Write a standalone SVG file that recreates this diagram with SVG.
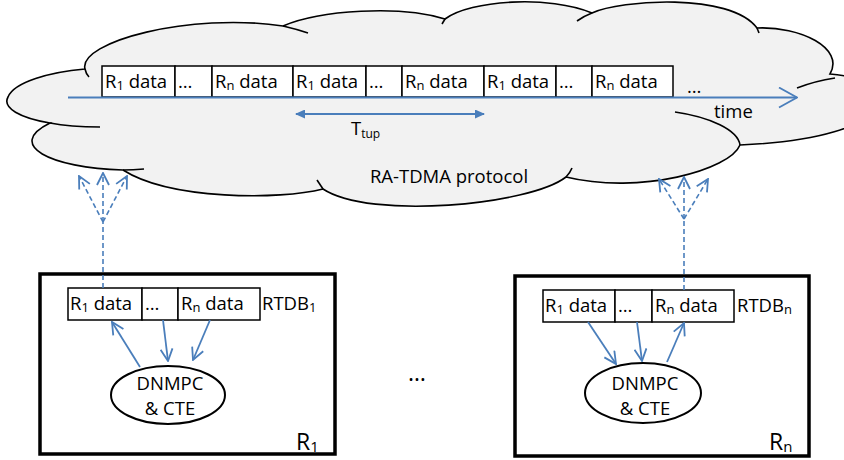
<svg xmlns="http://www.w3.org/2000/svg" width="844" height="460" viewBox="0 0 844 460">
<style>
  .t{font-family:"Open Sans","Liberation Sans",sans-serif;font-size:18.5px;fill:#000}
  .big{font-size:23px}
  .slot{fill:#fff;stroke:#000;stroke-width:1.5}
  .frame{fill:#fff;stroke:#000;stroke-width:3.5}
  .ell{fill:#fff;stroke:#000;stroke-width:2}
  .cl{fill:none;stroke:#000;stroke-width:1.6}
  .bl{fill:none;stroke:#4a7ebb;stroke-width:1.8}
  .dash{fill:none;stroke:#4a7ebb;stroke-width:1.6;stroke-dasharray:5,3}
</style>
<defs>
  <marker id="vopen" viewBox="0 0 14 14" refX="13" refY="7" markerWidth="14" markerHeight="14" markerUnits="userSpaceOnUse" orient="auto">
    <path d="M1,1 L13,7 L1,13" fill="none" stroke="#4a7ebb" stroke-width="1.8"/>
  </marker>
  <marker id="vbig" viewBox="0 0 20 22" refX="19" refY="11" markerWidth="20" markerHeight="22" markerUnits="userSpaceOnUse" orient="auto">
    <path d="M1,1 L19,11 L1,21" fill="none" stroke="#4a7ebb" stroke-width="1.8"/>
  </marker>
  <marker id="tri" viewBox="0 0 10 9" refX="9" refY="4.5" markerWidth="10" markerHeight="9" markerUnits="userSpaceOnUse" orient="auto-start-reverse">
    <path d="M0,0 L10,4.5 L0,9 Z" fill="#4a7ebb"/>
  </marker>
</defs>

<g id="cloud">
  <path d="M50,123 C20,118 2,108 8,97 C14,82 50,72 85,69 C78,42 190,12 283,26 C320,10 400,5 445,19 C470,0 550,-5 592,13 C620,0 730,-8 757,28 C800,26 845,48 830,74 C905,80 905,138 740,145 C730,170 640,195 566,177 C530,205 370,220 323,189 C280,200 170,200 123,170 C50,168 5,145 50,123 Z" fill="#f2f2f2" stroke="#000" stroke-width="1.6"/>
  <path class="cl" d="M50,123 Q70,127 100,127"/>
  <path class="cl" d="M85,69 Q86,74 89,77"/>
  <path class="cl" d="M283,26 Q296,29 308,33"/>
  <path class="cl" d="M445,19 L442,24"/>
  <path class="cl" d="M577,21 Q584,16 592,13"/>
  <path class="cl" d="M757,28 L759,33"/>
  <path class="cl" d="M797,88 Q815,81 835,78"/>
  <path class="cl" d="M740,145 C738,130 710,117 675,112"/>
  <path class="cl" d="M566,177 Q570,173 572,168"/>
  <path class="cl" d="M317,180 L323,189"/>
  <path class="cl" d="M123,170 Q133,170 144,169"/>
  <text class="t" x="449" y="183" text-anchor="middle">RA-TDMA protocol</text>
</g>

<g id="timeline">
  <rect class="slot" x="102" y="66" width="73" height="31"/>
  <rect class="slot" x="175" y="66" width="37" height="31"/>
  <rect class="slot" x="212" y="66" width="81" height="31"/>
  <rect class="slot" x="293" y="66" width="73" height="31"/>
  <rect class="slot" x="366" y="66" width="36" height="31"/>
  <rect class="slot" x="402" y="66" width="82" height="31"/>
  <rect class="slot" x="484" y="66" width="72" height="31"/>
  <rect class="slot" x="556" y="66" width="36" height="31"/>
  <rect class="slot" x="592" y="66" width="81" height="31"/>
  <text class="t" x="105" y="88">R<tspan font-size="13" dy="2">1</tspan><tspan dy="-2"> data</tspan></text>
  <text class="t" x="178" y="88">…</text>
  <text class="t" x="215" y="88">R<tspan font-size="13" dy="2">n</tspan><tspan dy="-2"> data</tspan></text>
  <text class="t" x="296" y="88">R<tspan font-size="13" dy="2">1</tspan><tspan dy="-2"> data</tspan></text>
  <text class="t" x="369" y="88">…</text>
  <text class="t" x="405" y="88">R<tspan font-size="13" dy="2">n</tspan><tspan dy="-2"> data</tspan></text>
  <text class="t" x="487" y="88">R<tspan font-size="13" dy="2">1</tspan><tspan dy="-2"> data</tspan></text>
  <text class="t" x="559" y="88">…</text>
  <text class="t" x="595" y="88">R<tspan font-size="13" dy="2">n</tspan><tspan dy="-2"> data</tspan></text>
  <text class="t" x="687" y="93">…</text>
  <text class="t" x="714" y="118">time</text>
  <text class="t" x="351" y="135">T<tspan font-size="12" dy="3">tup</tspan></text>
</g>

<g id="robot1">
  <rect class="frame" x="40" y="274" width="295" height="180"/>
  <rect class="slot" x="68" y="288" width="74" height="32"/>
  <rect class="slot" x="142" y="288" width="36" height="32"/>
  <rect class="slot" x="178" y="288" width="82" height="32"/>
  <text class="t" x="70" y="310">R<tspan font-size="13" dy="2">1</tspan><tspan dy="-2"> data</tspan></text>
  <text class="t" x="145" y="310">…</text>
  <text class="t" x="181" y="310">R<tspan font-size="13" dy="2">n</tspan><tspan dy="-2"> data</tspan></text>
  <text class="t" x="262" y="310">RTDB<tspan font-size="13" dy="2">1</tspan></text>
  <ellipse class="ell" cx="168" cy="395" rx="57" ry="29"/>
  <text class="t" x="170" y="390" text-anchor="middle">DNMPC</text>
  <text class="t" x="170" y="415" text-anchor="middle">&amp; CTE</text>
  <text class="t big" x="296" y="450">R<tspan font-size="15" dy="2">1</tspan></text>
</g>

<g id="robotn">
  <rect class="frame" x="515" y="276" width="294" height="180"/>
  <rect class="slot" x="543" y="290" width="72" height="32"/>
  <rect class="slot" x="615" y="290" width="37" height="32"/>
  <rect class="slot" x="652" y="290" width="82" height="32"/>
  <text class="t" x="545" y="312">R<tspan font-size="13" dy="2">1</tspan><tspan dy="-2"> data</tspan></text>
  <text class="t" x="618" y="312">…</text>
  <text class="t" x="655" y="312">R<tspan font-size="13" dy="2">n</tspan><tspan dy="-2"> data</tspan></text>
  <text class="t" x="737" y="312">RTDB<tspan font-size="13" dy="2">n</tspan></text>
  <ellipse class="ell" cx="643" cy="393" rx="58" ry="30"/>
  <text class="t" x="645" y="390" text-anchor="middle">DNMPC</text>
  <text class="t" x="645" y="415" text-anchor="middle">&amp; CTE</text>
  <text class="t big" x="769" y="450">R<tspan font-size="15" dy="2">n</tspan></text>
</g>

<g id="ellipsis">
  <text class="t big" x="408" y="381">…</text>
</g>

<g id="connectors">
  <line class="bl" x1="68" y1="97.5" x2="797" y2="97.5" marker-end="url(#vbig)"/>
  <line class="bl" x1="296" y1="114" x2="484" y2="114" marker-start="url(#tri)" marker-end="url(#tri)"/>
  <line class="bl" x1="140" y1="367" x2="112" y2="322" marker-end="url(#vopen)"/>
  <line class="bl" x1="163" y1="320" x2="168" y2="361" marker-end="url(#vopen)"/>
  <line class="bl" x1="210" y1="320" x2="193" y2="360" marker-end="url(#vopen)"/>
  <line class="bl" x1="588" y1="322" x2="616" y2="364" marker-end="url(#vopen)"/>
  <line class="bl" x1="637" y1="322" x2="642" y2="361" marker-end="url(#vopen)"/>
  <line class="bl" x1="667" y1="362" x2="684" y2="323" marker-end="url(#vopen)"/>
  <line class="dash" x1="103" y1="288" x2="103" y2="222"/>
  <line class="dash" x1="103" y1="222" x2="79" y2="176" marker-end="url(#vopen)"/>
  <line class="dash" x1="103" y1="222" x2="103" y2="173" marker-end="url(#vopen)"/>
  <line class="dash" x1="103" y1="222" x2="127" y2="176" marker-end="url(#vopen)"/>
  <line class="dash" x1="684" y1="290" x2="684" y2="219"/>
  <line class="dash" x1="684" y1="219" x2="659" y2="179" marker-end="url(#vopen)"/>
  <line class="dash" x1="684" y1="219" x2="684" y2="177" marker-end="url(#vopen)"/>
  <line class="dash" x1="684" y1="219" x2="708" y2="179" marker-end="url(#vopen)"/>
</g>
</svg>
